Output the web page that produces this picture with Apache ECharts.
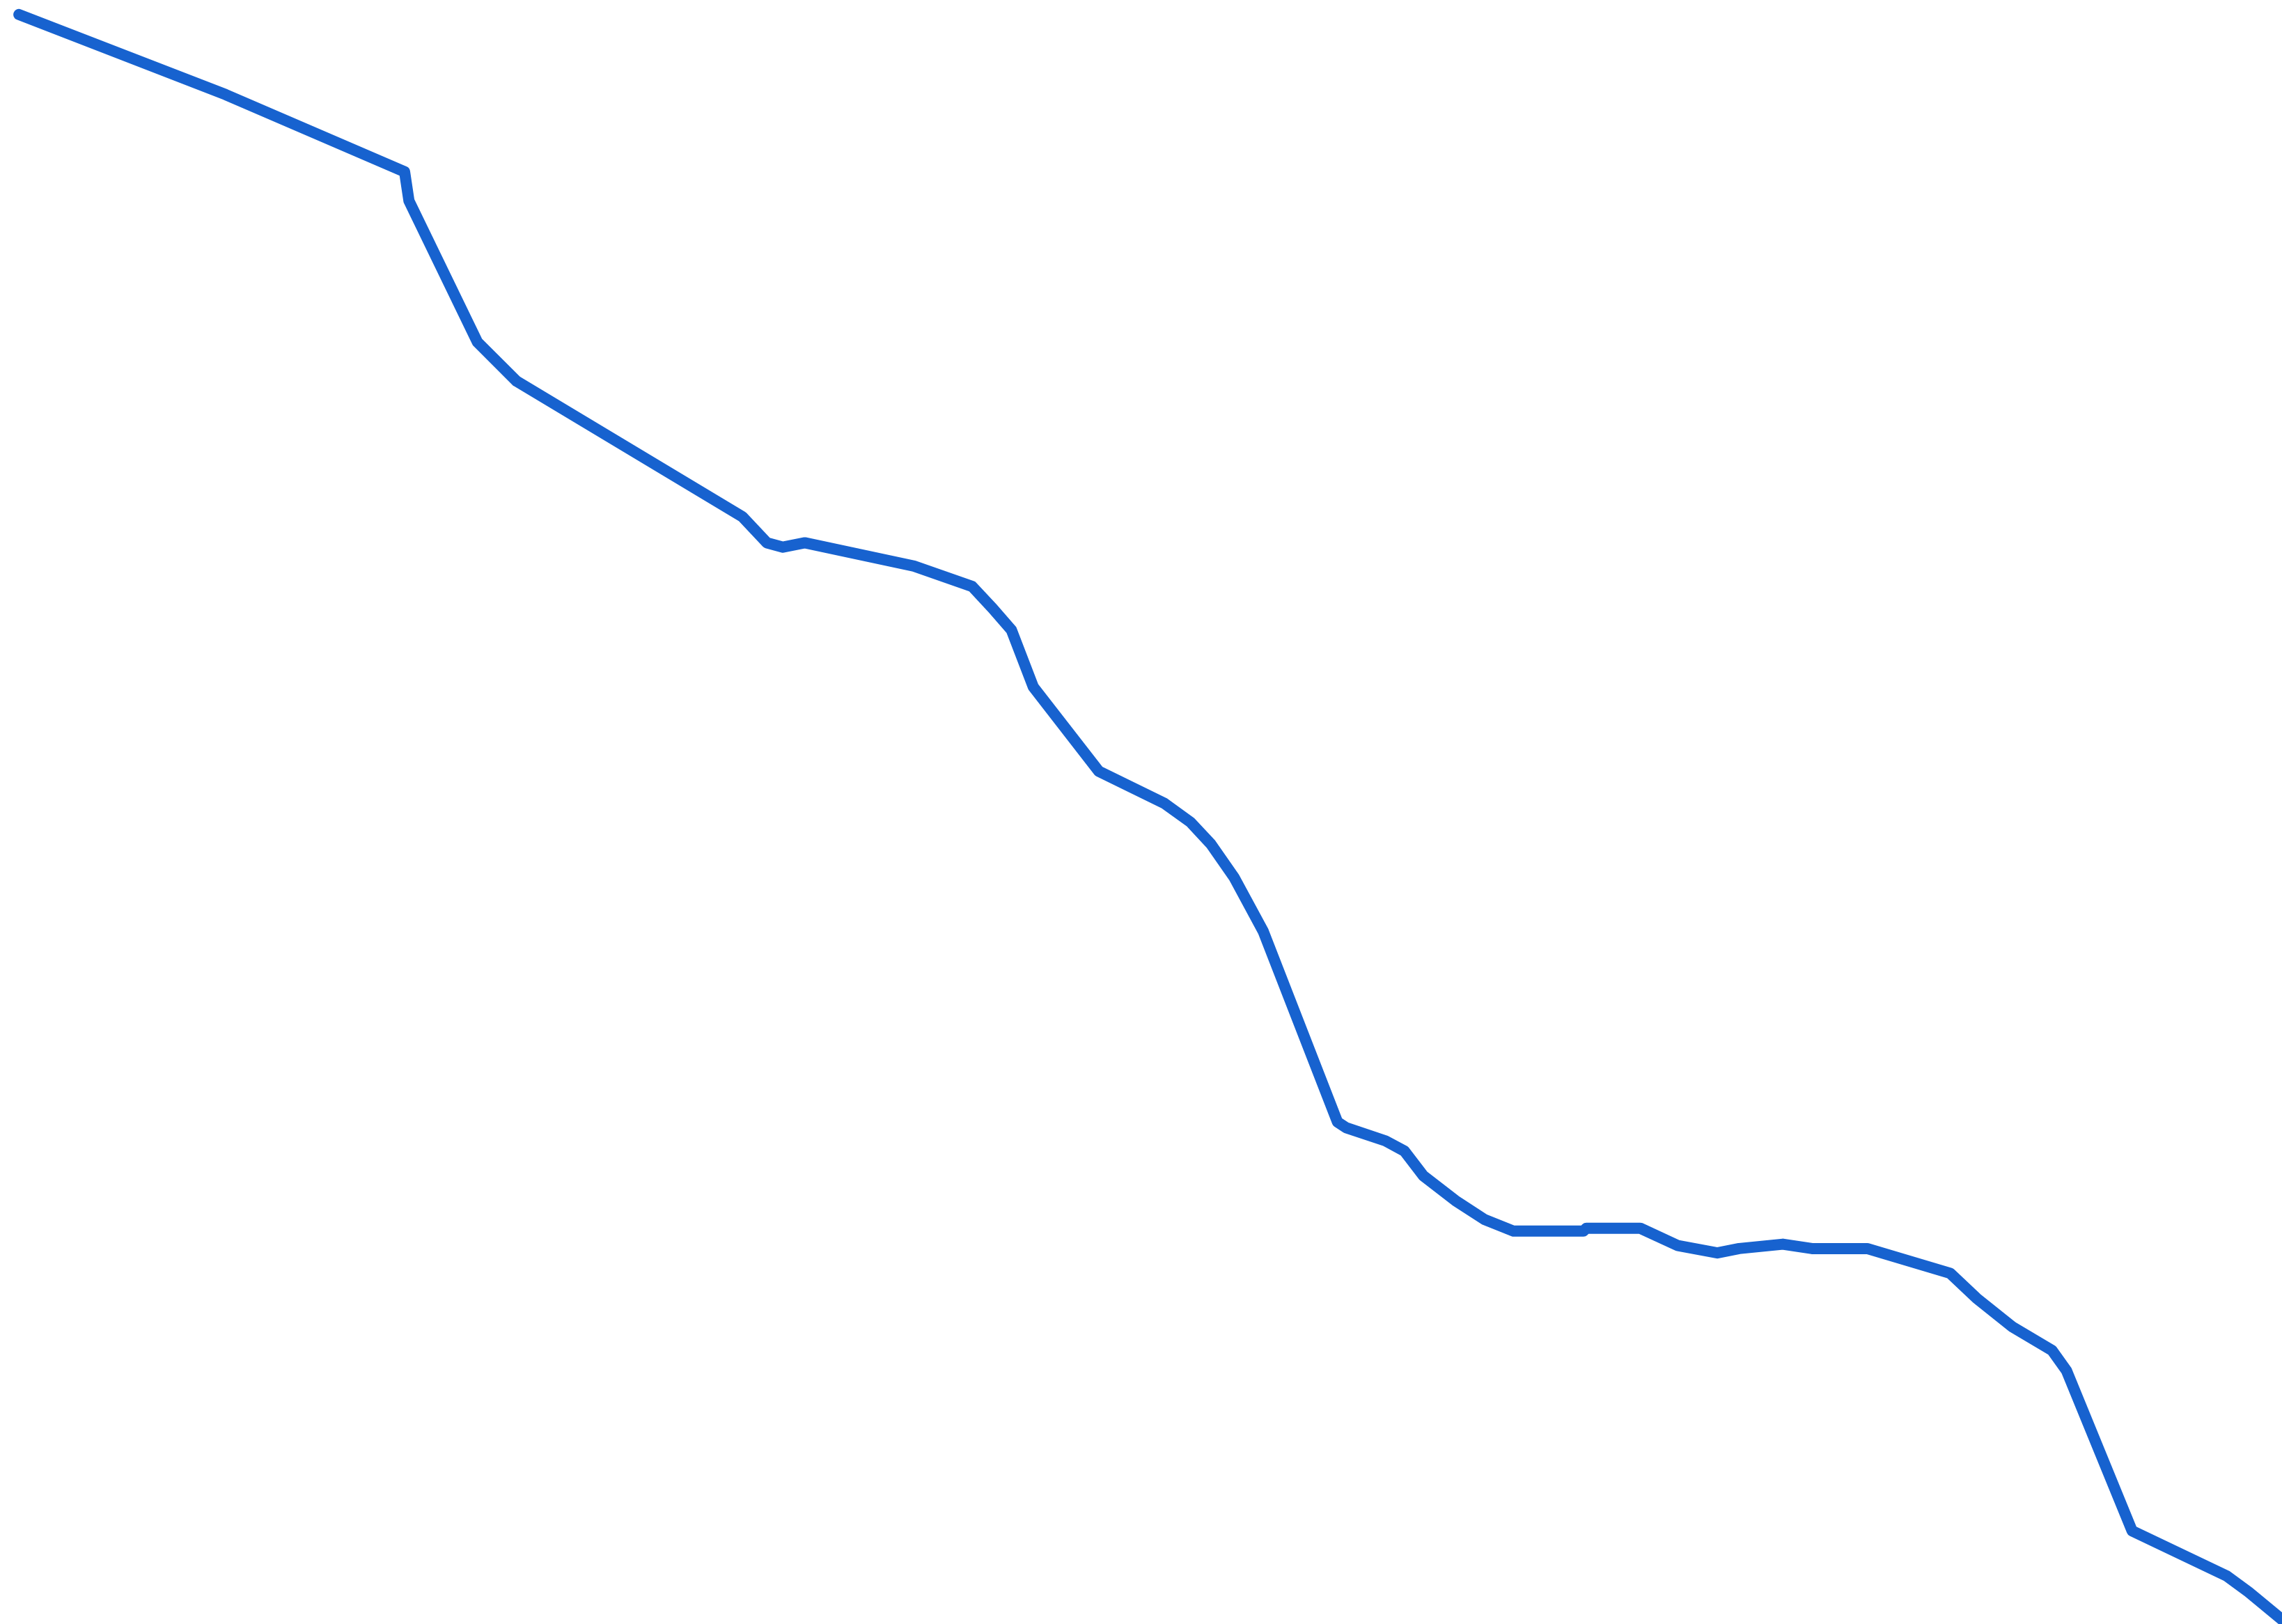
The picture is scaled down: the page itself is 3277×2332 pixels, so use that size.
<!DOCTYPE html>
<html>
<head>
<meta charset="utf-8">
<style>
  html, body { margin: 0; padding: 0; background: #ffffff; }
  #chart { width: 3277px; height: 2332px; }
</style>
<script src="https://cdn.jsdelivr.net/npm/echarts@6/dist/echarts.min.js"></script>
</head>
<body>
<div id="chart"></div>
<script>
// Series values (x position, value; value axis runs downward)
const xValues = [13, 155, 278, 281, 328, 355, 510, 527, 538, 553, 628, 668, 682, 695, 710, 755, 800, 818, 832, 848, 868, 919, 925, 952, 965, 978, 1000, 1020, 1040, 1088, 1090, 1127, 1153, 1180, 1195, 1225, 1245, 1283, 1340, 1358, 1383, 1410, 1420, 1465, 1530, 1545, 1568];
const yValues = [10, 65, 118, 138, 235, 262, 355, 373, 376, 373, 389, 403, 418, 433, 472, 530, 552, 565, 580, 603, 640, 771, 775, 784, 791, 808, 825, 838, 846, 846, 844, 844, 856, 861, 858, 855, 858, 858, 875, 892, 912, 928, 942, 1052, 1083, 1094, 1113];

const xMin = 0, xMax = 1568;
const yMin = 0, yMax = 1116;

const seriesData = xValues.map((x, i) => [x, yValues[i]]);

const chart = echarts.init(document.getElementById('chart'), null, { renderer: 'canvas' });
chart.setOption({
  animation: false,
  backgroundColor: '#ffffff',
  grid: { left: 0, right: 0, top: 0, bottom: 0, containLabel: false },
  xAxis: {
    type: 'value', min: xMin, max: xMax, show: false
  },
  yAxis: {
    type: 'value', min: yMin, max: yMax, inverse: true, show: false
  },
  series: [{
    type: 'line',
    data: seriesData,
    symbol: 'none',
    smooth: false,
    clip: true,
    lineStyle: { color: '#1762cf', width: 16, cap: 'round', join: 'round' }
  }]
});
</script>
</body>
</html>
